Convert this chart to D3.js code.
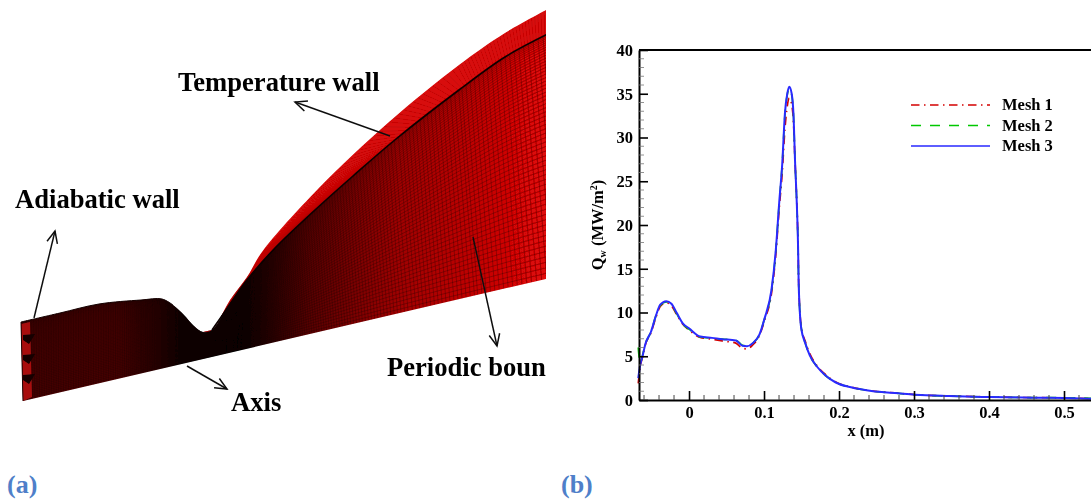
<!DOCTYPE html>
<html>
<head>
<meta charset="utf-8">
<script src="https://cdn.jsdelivr.net/npm/d3@7"></script>
<style>
  html, body { margin: 0; padding: 0; background: #fff; overflow: hidden; }
  text { font-family: "Liberation Serif", serif; font-weight: bold; fill: #000; }
</style>
</head>
<body>
<script>
// heat flux along the wall
const xValues = [-0.0677,-0.0651,-0.062,-0.0582,-0.0507,-0.0439,-0.0384,-0.0303,-0.0235,-0.0167,-0.0077,0,0.015,0.0307,0.0443,0.0624,0.0714,0.0773,0.085,0.094,0.1007,0.11,0.1157,0.1202,0.1243,0.1279,0.131,0.1337,0.1369,0.1392,0.1415,0.1437,0.1455,0.1462,0.1496,0.155,0.161,0.1708,0.182,0.1957,0.216,0.2432,0.2793,0.302,0.347,0.401,0.46,0.5,0.536];
const mesh1 = [1.9,3.8,4.9,6.3,7.7,9.5,10.7,11.1,10.8,9.8,8.6,8.0,7.15,6.95,6.75,6.5,5.9,5.85,6.3,7.4,9.1,12.2,16.6,21.8,26,31,33.6,34.5,33.8,31.8,27,22.5,17.3,13.5,8.4,6.7,5.3,3.9,2.9,2.05,1.48,1.05,0.78,0.6,0.46,0.35,0.27,0.24,0.16];
const mesh2 = [6.0,4.2,5.1,6.4,7.8,9.7,10.8,11.2,10.9,9.9,8.6,8.1,7.2,7.05,6.95,6.85,6.25,6.2,6.5,7.5,9.3,12.5,17,22.4,27,32.6,34.9,35.6,34.9,32.7,27,22.5,17.1,13.4,8.3,6.5,5.1,3.8,2.8,2.0,1.45,1.03,0.76,0.6,0.45,0.34,0.27,0.26,0.2];
const mesh3 = [2.5,4,5,6.4,7.8,9.7,10.9,11.3,11,10,8.7,8.2,7.25,7.1,6.95,6.8,6.2,6.15,6.5,7.5,9.3,12.6,17.1,22.5,27,32.8,35,35.8,35,32.8,27,22.5,17.1,13.3,8.2,6.5,5.1,3.8,2.8,2.0,1.45,1.03,0.76,0.6,0.45,0.34,0.27,0.23,0.15];

const seriesNames = ["Mesh 1", "Mesh 2", "Mesh 3"];
const seriesValues = [mesh1, mesh2, mesh3];
const seriesColors = ["#d40000", "#00c800", "#2a2aff"];
const seriesDash = ["8.5,4.5,1.5,4.5", "10,9", null];

const xMajor = [0, 0.1, 0.2, 0.3, 0.4, 0.5];
const xMinor = [-0.06,-0.04,-0.02,0.02,0.04,0.06,0.08,0.12,0.14,0.16,0.18,0.22,0.24,0.26,0.28,0.32,0.34,0.36,0.38,0.42,0.44,0.46,0.48,0.52];
const yMajor = [0, 5, 10, 15, 20, 25, 30, 35, 40];
const yMinor = d3.range(1, 40).filter(d => d % 5 !== 0);

// outlines of the mesh in panel (a), picture pixels
const wallX = [21,60,99,141,162,173,184,194,203,212,226,247,275,315,353,396,459,505,550];
const wallY = [322,313,304,300,299,305,315,326,332,330,310,280,248,210,176,139,90,57,33];
const axisX = [23,60,99,141,162,173,184,194,203,212,226,250,282,325,365,410,475,522,570];
const bandX = [203,209,216,230,247,262,318,389,459,505,550];
const bandY = [332,332,325,300,277,252,189,122,65,33,8];
const bandInnerX = [212,226,247,275,315,353,396,459,505,550];
const bandInnerY = [330,310,280,248,210,176,139,90,57,33];
const plateBlotches = [338, 358, 378];

const labels = [
  {text: "Temperature wall", x: 178, y: 91},
  {text: "Adiabatic wall", x: 15, y: 208},
  {text: "Axis", x: 231, y: 411},
  {text: "Periodic boun", x: 387, y: 376}
];
const arrows = [
  [[390, 136], [295, 102]],
  [[34, 318], [55, 231]],
  [[473, 237], [497, 346]],
  [[187, 366], [227, 389]]
];

const width = 1091;
const height = 501;

const svg = d3.select("body").append("svg")
  .attr("width", width)
  .attr("height", height)
  .attr("viewBox", [0, 0, width, height])
  .style("display", "block");

const defs = svg.append("defs");

defs.append("filter").attr("id", "soft")
  .append("feGaussianBlur").attr("stdDeviation", 0.35);

defs.append("clipPath").attr("id", "leftClip")
  .append("rect").attr("x", 0).attr("y", 0).attr("width", 546).attr("height", height);

const faceGradient = defs.append("linearGradient")
  .attr("id", "face")
  .attr("gradientUnits", "userSpaceOnUse")
  .attr("x1", 21).attr("x2", 546).attr("y1", 0).attr("y2", 0);
const faceStops = [[21,"#480000"],[120,"#4a0000"],[160,"#280000"],[185,"#030000"],[240,"#000000"],[270,"#280000"],[310,"#5a0000"],[400,"#a00000"],[546,"#e00808"]];
faceStops.forEach(s => {
  faceGradient.append("stop").attr("offset", (s[0] - 21) / 525).attr("stop-color", s[1]);
});

// panel (a)
const left = svg.append("g").attr("clip-path", "url(#leftClip)").append("g").attr("filter", "url(#soft)");

const axisLineY = d3.scaleLinear().domain([23, 550]).range([401, 278]);
const stations = d3.range(wallX.length);
const wallXAt = d3.scaleLinear().domain(stations).range(wallX);
const wallYAt = d3.scaleLinear().domain(stations).range(wallY);
const axisXAt = d3.scaleLinear().domain(stations).range(axisX);
const line = d3.line();
const smooth = d3.line().curve(d3.curveCatmullRom);

const wallPts = wallX.map((x, i) => [x, wallY[i]]);
const bandPts = bandX.map((x, i) => [x, bandY[i]]);
const bandInnerPts = bandInnerX.map((x, i) => [x, bandInnerY[i]]);

// red band above the black wall line
const bandD = smooth(bandPts) + "L" + smooth(bandInnerPts.slice().reverse()).slice(1) + "Z";
defs.append("clipPath").attr("id", "bandClip").append("path").attr("d", bandD);
left.append("path").attr("d", bandD).attr("fill", "#d80808");

// main face
const faceD = smooth(wallPts) + "L570," + axisLineY(570) + "L23,401Z";
defs.append("clipPath").attr("id", "faceClip").append("path").attr("d", faceD);
left.append("path").attr("d", faceD).attr("fill", "url(#face)");

// grid over the face, tighter near the throat and the wall
const spacing = d3.scaleLinear().domain([21, 100, 190, 240, 300, 400, 546]).range([2.5, 2.5, 1.2, 1.2, 2.2, 3.5, 5]);
const crossAt = [];
for (let t = 0; t < wallX.length - 1;) {
  crossAt.push(t);
  const seg = Math.floor(t);
  t += spacing(wallXAt(t)) / (wallX[seg + 1] - wallX[seg]);
}
const streamAt = d3.range(1, 60).map(i => Math.pow(i / 60, 1.4));

const grid = left.append("g").attr("clip-path", "url(#faceClip)")
  .attr("fill", "none").attr("stroke", "#1a0000").attr("stroke-width", 0.5);
grid.selectAll("path.cross").data(crossAt).join("path")
  .attr("class", "cross")
  .attr("stroke-opacity", 0.6)
  .attr("d", t => line([[wallXAt(t), wallYAt(t) - 3], [axisXAt(t), axisLineY(axisXAt(t))]]));
grid.selectAll("path.stream").data(streamAt).join("path")
  .attr("class", "stream")
  .attr("stroke-opacity", 0.6)
  .attr("d", f => smooth(stations.map(t => {
    const wx = wallXAt(t), wy = wallYAt(t), ax = axisXAt(t), ay = axisLineY(ax);
    return [wx + (ax - wx) * f, wy + (ay - wy) * f];
  })));

// hatching in the band
const bandStations = d3.range(bandX.length);
const innerStations = d3.range(bandInnerX.length).map(i => i * (bandX.length - 1) / (bandInnerX.length - 1));
const bandOuterAt = d3.scaleLinear().domain(bandStations).range(bandX);
const bandOuterYAt = d3.scaleLinear().domain(bandStations).range(bandY);
const bandInnerAt = d3.scaleLinear().domain(innerStations).range(bandInnerX);
const bandInnerYAt = d3.scaleLinear().domain(innerStations).range(bandInnerY);
left.append("g").attr("clip-path", "url(#bandClip)")
  .attr("stroke", "#700000").attr("stroke-width", 0.4).attr("stroke-opacity", 0.45).attr("fill", "none")
  .selectAll("path").data(d3.range(0, bandX.length - 1, 0.07)).join("path")
  .attr("d", t => line([[bandOuterAt(t), bandOuterYAt(t)], [bandInnerAt(t), bandInnerYAt(t)]]));

left.append("path")
  .attr("d", smooth(bandInnerPts))
  .attr("fill", "none").attr("stroke", "#0a0000").attr("stroke-width", 1.6);
left.append("path")
  .attr("d", smooth(wallPts.slice(0, 6)))
  .attr("fill", "none").attr("stroke", "#140000").attr("stroke-width", 1);

// end plate on the left
left.append("path")
  .attr("d", line([[21, 324], [30, 322], [32, 397], [23, 401]]) + "Z")
  .attr("fill", "#a81010");
left.selectAll("path.blotch").data(plateBlotches).join("path")
  .attr("class", "blotch")
  .attr("d", y => line([[23, y - 3], [35, y - 4], [29, y + 6], [23, y + 2]]) + "Z")
  .attr("fill", "#120000");
left.append("path")
  .attr("d", line([[21, 322], [23, 401]]))
  .attr("stroke", "#200000").attr("stroke-width", 1).attr("fill", "none");

// arrows, open heads
const arrowG = left.append("g").attr("stroke", "#111").attr("stroke-width", 1.5).attr("fill", "none");
arrows.forEach(a => {
  const [p0, p1] = a;
  const ang = Math.atan2(p1[1] - p0[1], p1[0] - p0[0]);
  const head = d => [p1[0] - 13 * Math.cos(ang + d), p1[1] - 13 * Math.sin(ang + d)];
  arrowG.append("path").attr("d", line([p0, p1]));
  arrowG.append("path").attr("d", line([head(0.42), p1, head(-0.42)]));
});

left.selectAll("text.note").data(labels).join("text")
  .attr("class", "note")
  .attr("x", d => d.x)
  .attr("y", d => d.y)
  .attr("font-size", 26.6)
  .text(d => d.text);

svg.append("text").attr("x", 7).attr("y", 493).attr("font-size", 26)
  .style("fill", "#4f7fc9").text("(a)");
svg.append("text").attr("x", 561).attr("y", 493).attr("font-size", 26)
  .style("fill", "#4f7fc9").text("(b)");

// panel (b)
const plot = {left: 639, right: 1091, top: 50, bottom: 400};
const xScale = d3.scaleLinear().domain([-0.0667, 0.5360]).range([plot.left, plot.right]);
const yScale = d3.scaleLinear().domain([0, 40]).range([plot.bottom, plot.top]);

const right = svg.append("g").attr("filter", "url(#soft)");

const curve = d3.line().x((d, i) => xScale(xValues[i])).y(d => yScale(d)).curve(d3.curveMonotoneX);
right.selectAll("path.series").data(seriesValues).join("path")
  .attr("class", "series")
  .attr("fill", "none")
  .attr("stroke", (d, i) => seriesColors[i])
  .attr("stroke-width", (d, i) => i === 2 ? 2 : 1.7)
  .attr("stroke-dasharray", (d, i) => seriesDash[i])
  .attr("d", curve);

const xAxis = d3.axisBottom(xScale)
  .tickValues(xMajor)
  .tickFormat(d => d === 0 ? "0" : d3.format(".1f")(d))
  .tickSize(-9).tickSizeOuter(0).tickPadding(6);
const yAxis = d3.axisLeft(yScale)
  .tickValues(yMajor)
  .tickSize(-9).tickSizeOuter(0).tickPadding(6);

const gx = right.append("g").attr("transform", `translate(0,${plot.bottom})`).call(xAxis);
const gy = right.append("g").attr("transform", `translate(${plot.left},0)`).call(yAxis);
[gx, gy].forEach(g => {
  g.attr("font-family", null);
  g.selectAll("text").attr("font-size", 16.5);
  g.selectAll("line").attr("stroke", "#000").attr("stroke-width", 1.6);
  g.select(".domain").attr("stroke", "#000").attr("stroke-width", 2);
});

right.selectAll("line.xminor").data(xMinor).join("line")
  .attr("class", "xminor")
  .attr("x1", d => xScale(d)).attr("x2", d => xScale(d))
  .attr("y1", plot.bottom).attr("y2", plot.bottom - 5)
  .attr("stroke", "#444").attr("stroke-width", 1);
right.selectAll("line.yminor").data(yMinor).join("line")
  .attr("class", "yminor")
  .attr("x1", plot.left).attr("x2", plot.left + 5)
  .attr("y1", d => yScale(d)).attr("y2", d => yScale(d))
  .attr("stroke", "#777").attr("stroke-width", 0.8);

right.append("line")
  .attr("x1", plot.left).attr("x2", plot.right)
  .attr("y1", plot.top).attr("y2", plot.top)
  .attr("stroke", "#000").attr("stroke-width", 2);

right.append("text")
  .attr("x", 866).attr("y", 436)
  .attr("text-anchor", "middle")
  .attr("font-size", 16.5)
  .text("x (m)");

const yLabel = right.append("text")
  .attr("transform", "translate(603,225) rotate(-90)")
  .attr("text-anchor", "middle")
  .attr("font-size", 16.5);
yLabel.append("tspan").text("Q");
yLabel.append("tspan").attr("font-size", 10).attr("dy", 3).text("w");
yLabel.append("tspan").attr("dy", -3).text(" (MW/m");
yLabel.append("tspan").attr("font-size", 10).attr("dy", -6).text("2");
yLabel.append("tspan").attr("dy", 6).text(")");

// legend
const legendY = d3.scaleLinear().domain([0, 2]).range([105, 146]);
const legend = right.selectAll("g.legend").data(seriesNames).join("g").attr("class", "legend");
legend.append("line")
  .attr("x1", 911).attr("x2", 990)
  .attr("y1", (d, i) => legendY(i)).attr("y2", (d, i) => legendY(i))
  .attr("stroke", (d, i) => seriesColors[i])
  .attr("stroke-width", 1.7)
  .attr("stroke-dasharray", (d, i) => seriesDash[i]);
legend.append("text")
  .attr("x", 1002)
  .attr("y", (d, i) => legendY(i) + 5)
  .attr("font-size", 16.5)
  .text(d => d);
</script>
</body>
</html>
